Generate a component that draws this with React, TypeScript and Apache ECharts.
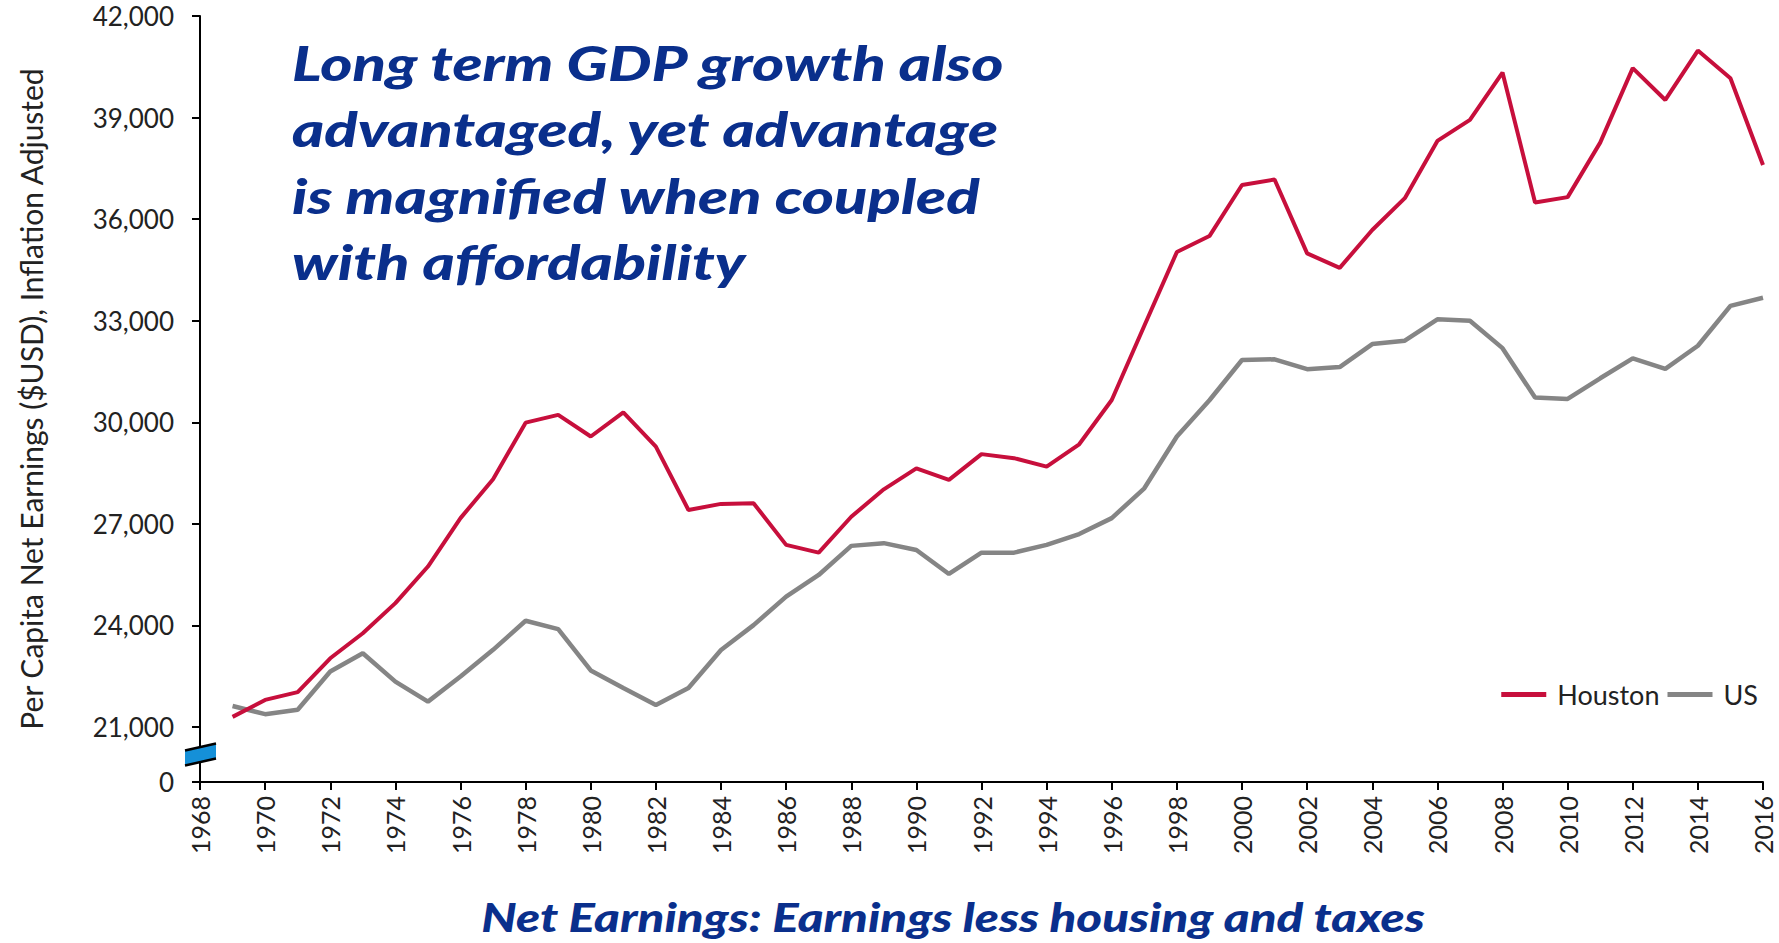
import React, { useEffect, useRef } from "react";
import * as echarts from "echarts";

const years = [
  1969, 1970, 1971, 1972, 1973, 1974, 1975, 1976, 1977, 1978, 1979, 1980, 1981, 1982, 1983, 1984,
  1985, 1986, 1987, 1988, 1989, 1990, 1991, 1992, 1993, 1994, 1995, 1996, 1997, 1998, 1999, 2000,
  2001, 2002, 2003, 2004, 2005, 2006, 2007, 2008, 2009, 2010, 2011, 2012, 2013, 2014, 2015, 2016,
];

const houston = [
  21300, 21800, 22030, 23030, 23770, 24660, 25740, 27170, 28320, 29990, 30220, 29580, 30290, 29280, 27410, 27590,
  27610, 26380, 26150, 27210, 28020, 28640, 28300, 29060, 28940, 28690, 29350, 30660, 32850, 35030, 35500, 37010,
  37170, 34990, 34560, 35680, 36620, 38310, 38930, 40330, 36490, 36650, 38260, 40460, 39520, 40980, 40160, 37600,
];

const us = [
  21620, 21380, 21510, 22640, 23180, 22340, 21750, 22490, 23280, 24140, 23890, 22670, 22150, 21650, 22150, 23275,
  24010, 24850, 25490, 26350, 26430, 26230, 25520, 26150, 26150, 26380, 26700, 27170, 28050, 29580, 30650, 31840,
  31860, 31570, 31630, 32310, 32410, 33040, 33000, 32190, 30730, 30690, 31300, 31890, 31580, 32260, 33440, 33680,
];

const yBreakBase = 19376; // shown as "0" below the axis break
const yTicks = [yBreakBase, 21000, 24000, 27000, 30000, 33000, 36000, 39000, 42000];

const titleLines = [
  "Long term GDP growth also",
  "advantaged, yet advantage",
  "is magnified when coupled",
  "with affordability",
];
const footnote = "Net Earnings: Earnings less housing and taxes";
const yAxisName = "Per Capita Net Earnings ($USD), Inflation Adjusted";

const W = 1779;
const H = 943;
const GRID = { left: 200, right: 16, top: 16, bottom: 161 };
const FONT = "Lato, 'Noto Sans', sans-serif";
const BLUE = "#0a2f8c";

export default function App() {
  const ref = useRef<HTMLDivElement>(null);

  useEffect(() => {
    if (!ref.current) return;
    const chart = echarts.init(ref.current, undefined, { renderer: "svg", width: W, height: H });

    const axisY0 = H - GRID.bottom; // pixel of yBreakBase
    const y21 = GRID.top + ((42000 - 21000) / (42000 - yBreakBase)) * (H - GRID.top - GRID.bottom);
    const yMid = (axisY0 + y21) / 2;
    const ax = GRID.left;

    chart.setOption({
      animation: false,
      backgroundColor: "#ffffff",
      textStyle: { fontFamily: FONT },
      grid: { ...GRID, containLabel: false },
      legend: {
        right: 16,
        top: 676,
        icon: "rect",
        itemWidth: 45,
        itemHeight: 5,
        itemGap: 8,
        textStyle: { fontSize: 27, color: "#222", fontFamily: FONT, padding: [0, 0, 0, 6] },
        data: ["Houston", "US"],
      },
      xAxis: {
        type: "value",
        min: 1968,
        max: 2016,
        interval: 2,
        axisLine: { lineStyle: { color: "#000", width: 2 } },
        axisTick: { show: true, length: 8, lineStyle: { color: "#000", width: 2 } },
        axisLabel: {
          rotate: 90,
          margin: 14,
          fontSize: 25,
          color: "#222",
          fontFamily: FONT,
          formatter: (v: number) => String(v),
        },
        splitLine: { show: false },
      },
      yAxis: {
        type: "value",
        min: yBreakBase,
        max: 42000,
        name: yAxisName,
        nameLocation: "middle",
        nameGap: 154,
        nameTextStyle: { fontSize: 30, color: "#222", fontFamily: FONT },
        axisLine: { show: true, lineStyle: { color: "#000", width: 2 } },
        axisTick: { show: true, length: 8, customValues: yTicks, lineStyle: { color: "#000", width: 2 } },
        axisLabel: {
          customValues: yTicks,
          margin: 26,
          fontSize: 26,
          color: "#222",
          fontFamily: FONT,
          formatter: (v: number) => (v < 20000 ? "0" : v.toLocaleString("en-US")),
        },
        splitLine: { show: false },
      },
      series: [
        {
          name: "Houston",
          type: "line",
          data: years.map((y, i) => [y, houston[i]]),
          showSymbol: false,
          symbol: "none",
          lineStyle: { color: "#c70f3c", width: 4 },
          itemStyle: { color: "#c70f3c" },
          z: 3,
        },
        {
          name: "US",
          type: "line",
          data: years.map((y, i) => [y, us[i]]),
          showSymbol: false,
          symbol: "none",
          lineStyle: { color: "#858585", width: 4.5 },
          itemStyle: { color: "#858585" },
          z: 2,
        },
      ],
      graphic: [
        {
          type: "text",
          x: 292,
          y: 29,
          scaleX: 1.28,
          z: 100,
          style: {
            text: titleLines.join("\n"),
            font: `italic 900 48px ${FONT}`,
            fill: BLUE,
            lineHeight: 66.5,
            align: "left",
            verticalAlign: "top",
          },
        },
        {
          type: "text",
          x: 953,
          y: 917,
          scaleX: 1.23,
          z: 100,
          style: {
            text: footnote,
            font: `italic 900 40px ${FONT}`,
            fill: BLUE,
            align: "center",
            verticalAlign: "middle",
          },
        },
        {
          type: "polygon",
          z: 100,
          shape: {
            points: [
              [ax - 15, yMid + 11],
              [ax - 15, yMid - 4],
              [ax + 16, yMid - 11],
              [ax + 16, yMid + 4],
            ],
          },
          style: { fill: "#1590d8", stroke: "none" },
        },
        {
          type: "line",
          z: 101,
          shape: { x1: ax - 15, y1: yMid - 4, x2: ax + 16, y2: yMid - 11 },
          style: { stroke: "#000", lineWidth: 2.5 },
        },
        {
          type: "line",
          z: 101,
          shape: { x1: ax - 15, y1: yMid + 11, x2: ax + 16, y2: yMid + 4 },
          style: { stroke: "#000", lineWidth: 2.5 },
        },
      ],
    });

    return () => chart.dispose();
  }, []);

  return (
    <div
      ref={ref}
      style={{ position: "fixed", left: 0, top: 0, width: W, height: H, background: "#fff" }}
    />
  );
}
